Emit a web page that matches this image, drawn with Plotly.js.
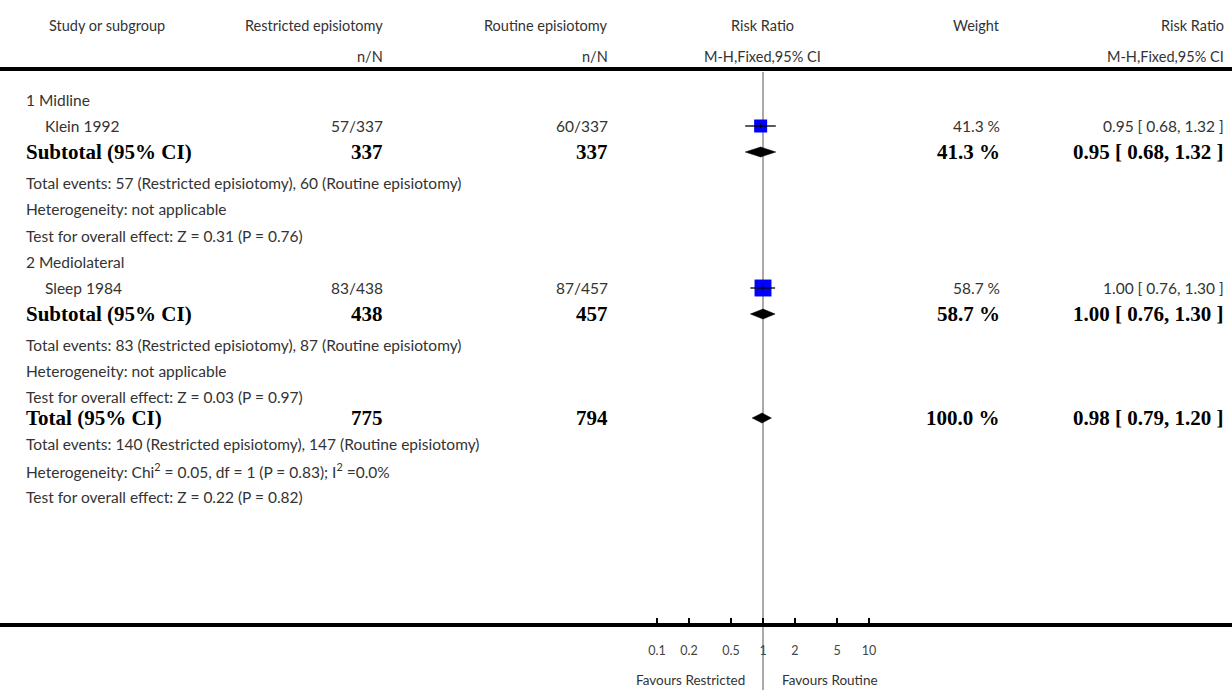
<!DOCTYPE html>
<html>
<head>
<meta charset="utf-8">
<script src="https://cdn.plot.ly/plotly-3.0.1.min.js"></script>
<style>html,body{margin:0;padding:0;background:#fff;}#chart{width:1232px;height:690px;}</style>
</head>
<body>
<div id="chart"></div>
<script>
// ---------------- DATA ----------------
const subgroups = ['1 Midline', '2 Mediolateral'];
const studies = ['Klein 1992', 'Sleep 1984'];
const restrictedEvents = [57, 83];
const restrictedTotal = [337, 438];
const routineEvents = [60, 87];
const routineTotal = [337, 457];
const studyRR = [0.95, 1.00];
const studyLo = [0.68, 0.76];
const studyHi = [1.32, 1.30];
const studyWeight = [41.3, 58.7];
const subtotalRR = [0.95, 1.00];
const subtotalLo = [0.68, 0.76];
const subtotalHi = [1.32, 1.30];
const subtotalWeight = [41.3, 58.7];
const subgroupHeterogeneity = ['not applicable', 'not applicable'];
const subgroupZ = ['0.31', '0.03'];
const subgroupP = ['0.76', '0.97'];
const totalRestricted = 775, totalRoutine = 794;
const totalRestrictedEvents = 140, totalRoutineEvents = 147;
const totalRR = 0.98, totalLo = 0.79, totalHi = 1.20, totalWeight = 100.0;
const totalChi2 = '0.05', totalDf = '1', totalHetP = '0.83', totalI2 = '0.0%';
const totalZ = '0.22', totalP = '0.82';
const tickValues = [0.1, 0.2, 0.5, 1, 2, 5, 10];
const tickLabels = ['0.1', '0.2', '0.5', '1', '2', '5', '10'];
const leftLabel = 'Favours Restricted', rightLabel = 'Favours Routine';

// ---------------- LAYOUT CONSTANTS ----------------
const W = 1232, H = 690;
const xOne = 763, decadePx = 106;   // pixel of RR=1, pixels per decade
const axisY = 625;
const sectionRows = [
  {label: 100, study: 126, subtotal: 152, events: 183, het: 209, test: 236},
  {label: 262, study: 288, subtotal: 314, events: 345, het: 371, test: 397}
];
const totalRows = {total: 418, events: 444, het: 470, test: 497};
const col = {left: 24, study: 43, restricted: 385, routine: 610, weight: 1002, rr: 1226, plot: 763};

const headFont = {family: 'Lato, "Open Sans", sans-serif', size: 14.5, color: '#333'};
const regFont = {family: 'Lato, "Open Sans", sans-serif', size: 15.5, color: '#333'};
const boldFont = {family: '"Liberation Serif", "DejaVu Serif", serif', size: 21, color: '#000'};

const ann = [];
function txt(x, y, text, anchor, font) {
  ann.push({xref: 'paper', yref: 'y', x: x / W, y: y, text: text, showarrow: false,
    xanchor: anchor, yanchor: 'middle', font: font});
}
const fmtCI = (r, l, h) => r.toFixed(2) + ' [ ' + l.toFixed(2) + ', ' + h.toFixed(2) + ' ]';
const fmtW = w => w.toFixed(1) + ' %';
const bold = s => '<b>' + s + '</b>';

// headers
txt(47, 25, 'Study or subgroup', 'left', headFont);
txt(col.restricted, 25, 'Restricted episiotomy', 'right', headFont);
txt(col.routine, 25, 'Routine episiotomy', 'right', headFont);
txt(col.plot, 25, 'Risk Ratio', 'center', headFont);
txt(col.weight, 25, 'Weight', 'right', headFont);
txt(col.rr, 25, 'Risk Ratio', 'right', headFont);
txt(col.restricted, 56, 'n/N', 'right', headFont);
txt(col.routine, 56, 'n/N', 'right', headFont);
txt(col.plot, 56, 'M-H,Fixed,95% CI', 'center', headFont);
txt(col.rr, 56, 'M-H,Fixed,95% CI', 'right', headFont);

const traces = [];
const shapes = [];

for (let i = 0; i < subgroups.length; i++) {
  const r = sectionRows[i];
  txt(col.left, r.label, subgroups[i], 'left', regFont);
  txt(col.study, r.study, studies[i], 'left', regFont);
  txt(col.restricted, r.study, restrictedEvents[i] + '/' + restrictedTotal[i], 'right', regFont);
  txt(col.routine, r.study, routineEvents[i] + '/' + routineTotal[i], 'right', regFont);
  txt(col.weight, r.study, fmtW(studyWeight[i]), 'right', regFont);
  txt(col.rr, r.study, fmtCI(studyRR[i], studyLo[i], studyHi[i]), 'right', regFont);

  txt(col.left, r.subtotal, bold('Subtotal (95% CI)'), 'left', boldFont);
  txt(col.restricted, r.subtotal, bold(String(restrictedTotal[i])), 'right', boldFont);
  txt(col.routine, r.subtotal, bold(String(routineTotal[i])), 'right', boldFont);
  txt(col.weight, r.subtotal, bold(fmtW(subtotalWeight[i])), 'right', boldFont);
  txt(col.rr, r.subtotal, bold(fmtCI(subtotalRR[i], subtotalLo[i], subtotalHi[i])), 'right', boldFont);

  txt(col.left, r.events, 'Total events: ' + restrictedEvents[i] + ' (Restricted episiotomy), ' +
      routineEvents[i] + ' (Routine episiotomy)', 'left', regFont);
  txt(col.left, r.het, 'Heterogeneity: ' + subgroupHeterogeneity[i], 'left', regFont);
  txt(col.left, r.test, 'Test for overall effect: Z = ' + subgroupZ[i] + ' (P = ' + subgroupP[i] + ')', 'left', regFont);

  // study square
  traces.push({type: 'scatter', mode: 'markers', x: [studyRR[i]], y: [r.study],
    marker: {symbol: 'square', color: '#0000ff', size: 13 * Math.pow(studyWeight[i] / studyWeight[0], 0.75),
      line: {width: 0}}, hoverinfo: 'skip'});
  // CI line
  traces.push({type: 'scatter', mode: 'lines', x: [studyLo[i], studyHi[i]], y: [r.study, r.study],
    line: {color: '#000', width: 1.3}, hoverinfo: 'skip'});
  traces.push({type: 'scatter', mode: 'lines', x: [studyRR[i], studyRR[i]], y: [r.study - 2, r.study + 2],
    line: {color: '#000', width: 1}, hoverinfo: 'skip'});
  // subtotal diamond
  traces.push({type: 'scatter', mode: 'lines', fill: 'toself', fillcolor: '#000',
    x: [subtotalLo[i], subtotalRR[i], subtotalHi[i], subtotalRR[i], subtotalLo[i]],
    y: [r.subtotal, r.subtotal - 5, r.subtotal, r.subtotal + 5, r.subtotal],
    line: {color: '#000', width: 0.5}, hoverinfo: 'skip'});
}

// total
txt(col.left, totalRows.total, bold('Total (95% CI)'), 'left', boldFont);
txt(col.restricted, totalRows.total, bold(String(totalRestricted)), 'right', boldFont);
txt(col.routine, totalRows.total, bold(String(totalRoutine)), 'right', boldFont);
txt(col.weight, totalRows.total, bold(fmtW(totalWeight)), 'right', boldFont);
txt(col.rr, totalRows.total, bold(fmtCI(totalRR, totalLo, totalHi)), 'right', boldFont);
txt(col.left, totalRows.events, 'Total events: ' + totalRestrictedEvents + ' (Restricted episiotomy), ' +
    totalRoutineEvents + ' (Routine episiotomy)', 'left', regFont);
txt(col.left, totalRows.het, 'Heterogeneity: Chi<sup>2</sup> = ' + totalChi2 + ', df = ' + totalDf +
    ' (P = ' + totalHetP + '); I<sup>2</sup> =' + totalI2, 'left', regFont);
txt(col.left, totalRows.test, 'Test for overall effect: Z = ' + totalZ + ' (P = ' + totalP + ')', 'left', regFont);
traces.push({type: 'scatter', mode: 'lines', fill: 'toself', fillcolor: '#000',
  x: [totalLo, totalRR, totalHi, totalRR, totalLo],
  y: [totalRows.total, totalRows.total - 5, totalRows.total, totalRows.total + 5, totalRows.total],
  line: {color: '#000', width: 0.5}, hoverinfo: 'skip'});

// favours labels
const favFont = {family: 'Lato, "Open Sans", sans-serif', size: 13.5, color: '#333'};
txt(col.plot - 16, 680, leftLabel, 'right', favFont);
txt(col.plot + 17, 680, rightLabel, 'left', favFont);

// header rule and reference line
shapes.push({type: 'line', xref: 'paper', yref: 'y', x0: 0, x1: 1, y0: 69, y1: 69,
  line: {color: '#000', width: 4}});
shapes.push({type: 'line', xref: 'x', yref: 'y', x0: 1, x1: 1, y0: 72, y1: 690,
  line: {color: '#aaa', width: 2}, layer: 'below'});

const layout = {
  width: W, height: H,
  margin: {l: 0, r: 0, t: 0, b: 0, pad: 0},
  paper_bgcolor: '#fff', plot_bgcolor: '#fff',
  showlegend: false,
  xaxis: {type: 'log', range: [-xOne / decadePx, (W - xOne) / decadePx],
    anchor: 'free', position: (H - axisY) / H,
    showline: true, linecolor: '#000', linewidth: 4,
    ticks: 'inside', ticklen: 5, tickwidth: 2, tickcolor: '#000',
    tickvals: tickValues, ticktext: tickLabels, ticklabelstandoff: 13,
    tickfont: {family: 'Lato, "Open Sans", sans-serif', size: 12.5, color: '#444'},
    showgrid: false, zeroline: false, fixedrange: true},
  yaxis: {range: [H, 0], visible: false, showgrid: false, zeroline: false, fixedrange: true},
  annotations: ann,
  shapes: shapes
};

Plotly.newPlot('chart', traces, layout, {displayModeBar: false, staticPlot: true});
</script>
</body>
</html>
